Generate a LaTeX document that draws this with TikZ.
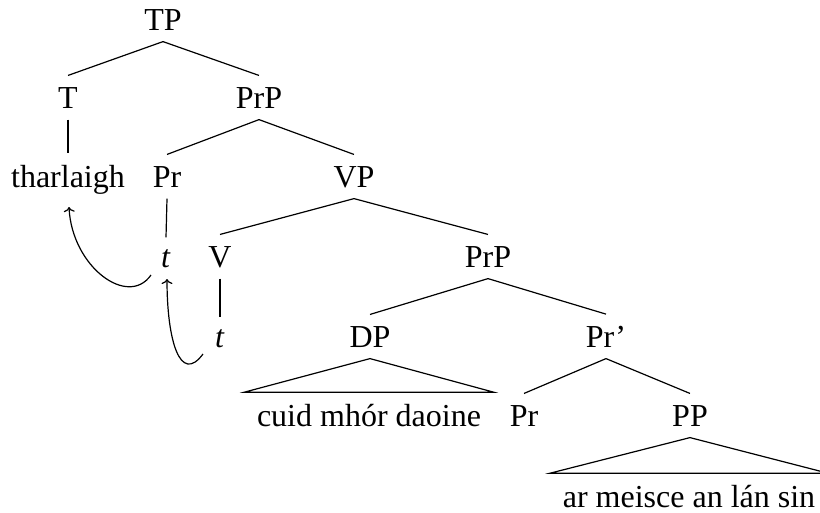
\documentclass[tikz,border=0pt]{standalone}
\usepackage{fontspec}
\setmainfont{Liberation Serif}
\usetikzlibrary{calc,arrows.meta}
\begin{document}
\begin{tikzpicture}[x=1pt,y=-1pt,line width=1.2pt,
  lbl/.style={anchor=base,inner xsep=0pt,inner ysep=11pt,text depth=0pt,font=\fontsize{32}{38}\selectfont},
  tri/.style={lbl,inner xsep=12pt},
  mv/.style={-{To[length=5pt,width=11pt]}}]
\useasboundingbox (0,0) rectangle (820,512);
% row 1
\node[lbl] (TP) at (163,30) {TP};
% row 2
\node[lbl] (T) at (68,108) {T};
\node[lbl] (PrPa) at (259,108) {PrP};
% row 3
\node[lbl] (thar) at (68,187) {tharlaigh};
\node[lbl] (Pra) at (167,187) {Pr};
\node[lbl] (VP) at (354,187) {VP};
% row 4
\node[lbl] (ta) at (166,267) {\textit{t}};
\node[lbl] (V) at (220,267) {V};
\node[lbl] (PrPb) at (488,267) {PrP};
% row 5
\node[lbl] (tb) at (220,347) {\textit{t}};
\node[lbl] (DP) at (370,347) {DP};
\node[lbl] (Prbar) at (606,347) {Pr’};
% row 6
\node[tri] (cuid) at (369,426) {cuid mhór daoine};
\node[lbl] (Prb) at (524,426) {Pr};
\node[lbl] (PP) at (690,426) {PP};
% row 7
\node[tri] (arm) at (689,507) {ar meisce an lán sin};
% branches
\draw (TP.south) -- (T.north);
\draw (TP.south) -- (PrPa.north);
\draw (T.south) -- (thar.north);
\draw (PrPa.south) -- (Pra.north);
\draw (PrPa.south) -- (VP.north);
\draw (Pra.south) -- (ta.north);
\draw (VP.south) -- (V.north);
\draw (VP.south) -- (PrPb.north);
\draw (V.south) -- (tb.north);
\draw (PrPb.south) -- (DP.north);
\draw (PrPb.south) -- (Prbar.north);
\draw (DP.south) -- (cuid.north west) -- (cuid.north east) -- cycle;
\draw (Prbar.south) -- (Prb.north);
\draw (Prbar.south) -- (PP.north);
\draw (PP.south) -- (arm.north west) -- (arm.north east) -- cycle;
% movement arrows
\draw[mv] ($(ta.base)+(-15,8)$) .. controls +(-23,33) and +(3,60) .. ($(thar.base)+(1,20)$);
\draw[mv] ($(tb.base)+(-17,7)$) .. controls +(-23,31) and +(0,61) .. ($(ta.base)+(1,12)$);
\end{tikzpicture}
\end{document}
